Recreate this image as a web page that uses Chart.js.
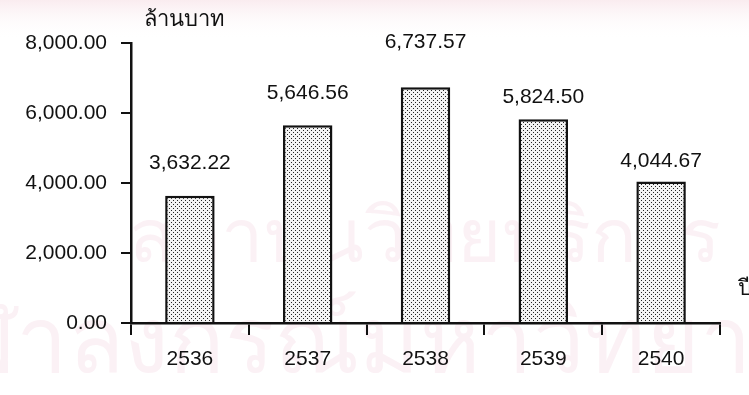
<!DOCTYPE html>
<html>
<head>
<meta charset="utf-8">
<script src="https://cdn.jsdelivr.net/npm/chart.js@4.4.1/dist/chart.umd.min.js"></script>
<style>
  html, body { margin: 0; padding: 0; background: #fff; }
  #wrap { width: 749px; height: 395px; }
</style>
</head>
<body>
<div id="wrap"><canvas id="chart" width="749" height="395"></canvas></div>
<script>
var YEARS = ['2536', '2537', '2538', '2539', '2540'];
var VALUES = [3632.22, 5646.56, 6737.57, 5824.50, 4044.67];
var Y_TICKS = [0, 2000, 4000, 6000, 8000];
var Y_TITLE = 'ล้านบาท';
var X_TITLE = 'ปี';
var WATERMARK = ['สถาบันวิทยบริการ', 'จุฬาลงกรณ์มหาวิทยาลัย'];

// gap between bar top and its value label (the scan has them placed by hand)
var LABEL_GAP = [33, 33, 45, 22, 21];
var FONT = '"Liberation Sans", Arial, sans-serif';

function fmt(v) {
  return v.toLocaleString('en-US', { minimumFractionDigits: 2, maximumFractionDigits: 2 });
}

// dotted fill like the scanned bars
function makePattern() {
  var c = document.createElement('canvas');
  c.width = 4; c.height = 4;
  var g = c.getContext('2d');
  g.fillStyle = '#f2f2f2';
  g.fillRect(0, 0, 4, 4);
  g.fillStyle = '#222';
  g.fillRect(1, 0, 1, 1);
  g.fillRect(3, 2, 1, 1);
  return g.createPattern(c, 'repeat');
}

var watermark = {
  id: 'watermark',
  beforeDraw: function(chart) {
    var c = chart.ctx;
    c.save();
    c.fillStyle = '#fff';
    c.fillRect(0, 0, chart.width, chart.height);
    var grad = c.createLinearGradient(0, 0, 0, 40);
    grad.addColorStop(0, 'rgba(240,200,210,0.35)');
    grad.addColorStop(1, 'rgba(255,255,255,0)');
    c.fillStyle = grad;
    c.fillRect(0, 0, chart.width, 40);
    c.fillStyle = 'rgba(235,190,210,0.22)';
    c.textAlign = 'center';
    c.textBaseline = 'alphabetic';
    c.font = '76px "Noto Sans", sans-serif';
    c.fillText(WATERMARK[0], 425, 262);
    c.font = '92px "Noto Sans", sans-serif';
    c.fillText(WATERMARK[1], 380, 372);
    c.restore();
  }
};

var extras = {
  id: 'extras',
  afterDatasetsDraw: function(chart) {
    var c = chart.ctx;
    var meta = chart.getDatasetMeta(0);
    c.save();
    c.fillStyle = '#111';
    c.font = '21px ' + FONT;
    c.textAlign = 'center';
    c.textBaseline = 'bottom';
    meta.data.forEach(function(bar, i) {
      c.fillText(fmt(VALUES[i]), bar.x, bar.y - LABEL_GAP[i] + 11);
    });
    var area = chart.chartArea;
    c.font = '22px ' + FONT;
    c.textAlign = 'left';
    c.textBaseline = 'middle';
    c.fillText(Y_TITLE, area.left + 13, area.top - 23);
    c.fillText(X_TITLE, area.right + 18, area.bottom - 34);
    c.restore();
  }
};

new Chart(document.getElementById('chart'), {
  type: 'bar',
  data: {
    labels: YEARS,
    datasets: [{
      data: VALUES,
      backgroundColor: makePattern(),
      borderColor: '#111',
      borderWidth: 2.5,
      borderSkipped: 'bottom',
      categoryPercentage: 1,
      barPercentage: 0.42
    }]
  },
  options: {
    responsive: false,
    animation: false,
    layout: { padding: { top: 43, right: 29, left: 0, bottom: 0 } },
    plugins: { legend: { display: false }, tooltip: { enabled: false } },
    scales: {
      x: {
        grid: { display: true, drawOnChartArea: false, drawTicks: true, tickLength: 12, color: '#111', lineWidth: 2, offset: true },
        border: { display: true, color: '#111', width: 2.5 },
        ticks: { color: '#111', font: { family: FONT, size: 21 }, padding: 12, maxRotation: 0 },
        afterFit: function(s) { s.height = 72; }
      },
      y: {
        min: 0,
        max: 8000,
        afterBuildTicks: function(s) { s.ticks = Y_TICKS.map(function(v) { return { value: v }; }); },
        grid: { display: true, drawOnChartArea: false, drawTicks: true, tickLength: 10, color: '#111', lineWidth: 2 },
        border: { display: true, color: '#111', width: 2.5 },
        ticks: { color: '#111', font: { family: FONT, size: 21 }, padding: 14, callback: function(v) { return fmt(v); } },
        afterFit: function(s) { s.width = 131; }
      }
    }
  },
  plugins: [watermark, extras]
});
</script>
</body>
</html>
